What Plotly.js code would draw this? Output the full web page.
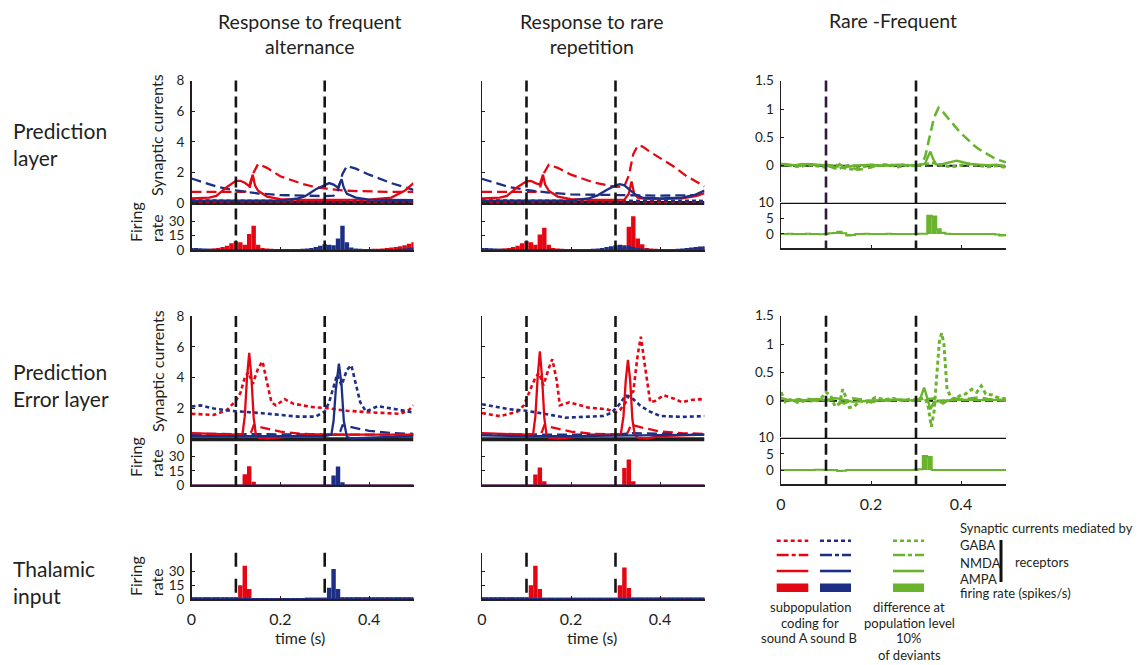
<!DOCTYPE html>
<html>
<head>
<meta charset="utf-8">
<script src="https://cdn.plot.ly/plotly-3.0.1.min.js"></script>
<style>
  html, body { margin: 0; padding: 0; background: #fff; }
  #chart { width: 1138px; height: 665px; }
</style>
</head>
<body>
<div id="chart"></div>
<script>
// Time bases (s)
const binTimes = [0,0.01,0.02,0.03,0.04,0.05,0.06,0.07,0.08,0.09,0.1,0.11,0.12,0.13,0.14,0.15,0.16,0.17,0.18,0.19,0.2,0.21,0.22,0.23,0.24,0.25,0.26,0.27,0.28,0.29,0.3,0.31,0.32,0.33,0.34,0.35,0.36,0.37,0.38,0.39,0.4,0.41,0.42,0.43,0.44,0.45,0.46,0.47,0.48,0.49,0.5];
const coarseTimes = [0,0.02,0.04,0.06,0.08,0.1,0.12,0.14,0.16,0.18,0.2,0.22,0.24,0.26,0.28,0.3,0.32,0.34,0.36,0.38,0.4,0.42,0.44,0.46,0.48,0.5];
const toneOnsets = [0.1, 0.3];

// Tick values
const synTicks = [0, 2, 4, 6, 8];
const rateTicks = [0, 15, 30];
const diffSynTicks = [0, 0.5, 1, 1.5];
const diffRateTicks = [0, 5, 10];
const timeTicks = [0, 0.2, 0.4];
const timeTickText = ['0', '0.2', '0.4'];

// Prediction layer - frequent alternance
const predFreqTimeRedNmda = [0,0.05,0.1,0.12,0.13,0.14,0.15,0.17,0.2,0.25,0.28,0.3,0.35,0.4,0.45,0.5];
const predFreqRedNmda = [0.72,0.72,0.68,0.72,0.9,2.0,2.55,2.3,1.75,1.25,1.03,0.95,0.8,0.74,0.72,0.72];
const predFreqTimeBlueNmda = [0,0.03,0.06,0.1,0.15,0.2,0.25,0.3,0.32,0.33,0.34,0.35,0.37,0.4,0.45,0.5];
const predFreqBlueNmda = [1.6,1.3,1.05,0.82,0.62,0.52,0.47,0.45,0.48,0.85,1.9,2.42,2.25,1.85,1.3,0.86];
const predFreqTimeRedAmpa = [0,0.04,0.056,0.08,0.1,0.11,0.12,0.13,0.138,0.143,0.15,0.17,0.2,0.25,0.3,0.35,0.4,0.45,0.46,0.48,0.5];
const predFreqRedAmpa = [0.3,0.35,0.46,1.05,1.45,1.45,1.32,1.1,1.85,1.15,0.8,0.42,0.25,0.2,0.2,0.2,0.22,0.35,0.5,0.8,1.3];
const predFreqTimeBlueAmpa = [0,0.1,0.2,0.24,0.256,0.28,0.3,0.31,0.32,0.33,0.338,0.343,0.35,0.37,0.4,0.45,0.5];
const predFreqBlueAmpa = [0.15,0.15,0.15,0.3,0.45,0.9,1.2,1.3,1.2,1.0,1.55,1.0,0.6,0.35,0.22,0.18,0.18];
const predTimeGaba = [0,0.1,0.2,0.3,0.4,0.5];
const predRedGaba = [0.08,0.1,0.08,0.1,0.08,0.1];
const predBlueGaba = [0.14,0.12,0.15,0.13,0.14,0.12];
const predFreqRedRate = [1,1,1,1,1.2,1.5,2,3,4.5,7,9,8,5.5,16.5,25,5.5,2,1.5,1.2,1,1,1,1,0.8,0.8,0.8,0.8,0.8,0.8,0.8,0.8,0.8,0.8,0.8,0.8,0.8,0.8,0.8,0.9,1,1,1.2,1.4,1.6,2,2.5,3,4,5,6.5,8];
const predFreqBlueRate = [2,2,1.8,1.6,1.4,1.2,1,1,1,1,1,1,1,1,1,1,1,1,1,1,1,1,1,1,1,1.2,1.5,2,3,4.5,6,5.5,5,12,25,8,2.5,1.5,1.2,1,1,1,1,1,1,1,1,1.2,1.5,2,2.5];

// Prediction layer - rare repetition
const predRareTimeRedNmda = [0,0.05,0.1,0.12,0.13,0.14,0.15,0.17,0.2,0.25,0.3,0.32,0.33,0.34,0.35,0.36,0.38,0.4,0.43,0.46,0.48,0.5];
const predRareRedNmda = [0.72,0.72,0.68,0.72,0.95,2.0,2.5,2.3,1.85,1.35,1.05,1.1,1.8,3.2,3.75,3.7,3.3,2.95,2.4,1.75,1.4,1.08];
const predRareTimeBlueNmda = [0,0.03,0.06,0.1,0.15,0.2,0.3,0.4,0.5];
const predRareBlueNmda = [1.58,1.3,1.05,0.85,0.68,0.56,0.5,0.48,0.52];
const predRareTimeRedAmpa = [0,0.04,0.056,0.08,0.1,0.11,0.12,0.13,0.137,0.142,0.15,0.17,0.2,0.25,0.3,0.32,0.33,0.336,0.342,0.35,0.37,0.4,0.45,0.48,0.5];
const predRareRedAmpa = [0.3,0.35,0.46,1.05,1.42,1.45,1.3,1.2,1.85,1.2,0.8,0.42,0.25,0.2,0.2,0.22,0.6,1.4,0.6,0.35,0.25,0.25,0.3,0.45,0.65];
const predRareTimeBlueAmpa = [0,0.1,0.2,0.24,0.26,0.28,0.3,0.31,0.32,0.33,0.345,0.36,0.4,0.45,0.48,0.5];
const predRareBlueAmpa = [0.15,0.15,0.17,0.3,0.5,0.85,1.15,1.23,1.15,0.9,0.55,0.35,0.3,0.35,0.55,0.82];
const predRareRedRate = [1,1,1,1,1.2,1.5,2,3,4.5,7,9,8,5.5,16,23,5.5,2,1.5,1.2,1,1,1,1,1,1,1,1,1,1,1,1.2,1.5,2,24,35,12,6,2,1.5,1.2,1,1,1,1,1,1,1.2,1.5,2,2.5,3];
const predRareBlueRate = [2,2,1.8,1.6,1.4,1.2,1,1,1,1,1,1,1,1,1,1,1,1,1,1,1,1,1,1,1,1.2,1.5,2,3,4,5,5.5,5,4.5,3,2,1.5,1.2,1,1,1,1,1,1,1.2,1.5,2,2.5,3,3.5,4];

// Prediction error layer - frequent alternance
const errFreqTimeRedGaba = [0,0.03,0.05,0.08,0.1,0.11,0.12,0.128,0.138,0.15,0.16,0.17,0.18,0.19,0.21,0.23,0.27,0.31,0.35,0.4,0.45,0.47,0.49,0.5];
const errFreqRedGaba = [1.65,1.6,1.58,1.9,2.5,3.0,4.0,4.35,3.6,4.6,5.05,3.7,2.4,2.2,2.6,2.3,2.1,2.0,1.85,1.75,1.65,1.65,1.9,2.2];
const errFreqTimeBlueGaba = [0,0.02,0.05,0.09,0.16,0.24,0.28,0.3,0.31,0.32,0.328,0.338,0.35,0.36,0.37,0.38,0.393,0.42,0.46,0.5];
const errFreqBlueGaba = [2.12,2.2,2.0,1.84,1.69,1.47,1.47,1.8,2.4,3.4,4.2,3.5,4.5,4.8,3.5,2.4,1.8,2.15,1.95,1.73];
const errFreqTimeRedAmpa = [0,0.05,0.1,0.115,0.12,0.125,0.13,0.135,0.14,0.145,0.15,0.17,0.2,0.25,0.3,0.35,0.4,0.5];
const errFreqRedAmpa = [0.4,0.35,0.3,0.35,1.5,4.0,5.6,4.0,1.4,0.3,0.1,0.05,0.12,0.25,0.3,0.3,0.3,0.3];
const errFreqTimeBlueAmpa = [0,0.1,0.2,0.3,0.315,0.32,0.325,0.332,0.338,0.343,0.35,0.36,0.4,0.45,0.5];
const errFreqBlueAmpa = [0.2,0.2,0.2,0.2,0.3,1.2,3.2,4.9,3.5,1.2,0.15,0.05,0.1,0.15,0.2];
const errFreqTimeRedNmda = [0,0.13,0.135,0.14,0.16,0.2,0.25,0.3,0.4,0.5];
const errFreqRedNmda = [0.3,0.3,0.5,0.9,0.75,0.5,0.35,0.3,0.3,0.3];
const errFreqTimeBlueNmda = [0,0.33,0.335,0.34,0.36,0.4,0.45,0.5];
const errFreqBlueNmda = [0.35,0.3,0.5,0.9,0.78,0.55,0.4,0.35];
const errFreqRedRate = [0.5,0.5,0.5,0.5,0.5,0.5,0.5,0.5,0.5,0.5,0.5,0.5,11.5,20,3.5,0.5,0.5,0.5,0.5,0.5,0.5,0.5,0.5,0.5,0.5,0.5,0.5,0.5,0.5,0.5,0.5,0.5,0.5,0.5,0.5,0.5,0.5,0.5,0.5,0.5,0.5,0.5,0.5,0.5,0.5,0.5,0.5,0.5,0.5,0.5,0.5];
const errFreqBlueRate = [0.4,0.4,0.4,0.4,0.4,0.4,0.4,0.4,0.4,0.4,0.4,0.4,0.4,0.4,0.4,0.4,0.4,0.4,0.4,0.4,0.4,0.4,0.4,0.4,0.4,0.4,0.4,0.4,0.4,0.4,0.4,0.4,10,19.5,3,0.4,0.4,0.4,0.4,0.4,0.4,0.4,0.4,0.4,0.4,0.4,0.4,0.4,0.4,0.4,0.4];

// Prediction error layer - rare repetition
const errRareTimeRedGaba = [0,0.04,0.08,0.094,0.111,0.12,0.128,0.138,0.15,0.158,0.168,0.175,0.196,0.21,0.24,0.28,0.3,0.31,0.323,0.33,0.34,0.35,0.357,0.365,0.378,0.39,0.408,0.43,0.45,0.47,0.49,0.5];
const errRareRedGaba = [1.7,1.5,1.8,2.2,3.4,4.0,4.3,3.5,4.6,5.2,3.8,2.2,2.4,2.3,2.05,1.95,1.75,1.9,2.4,2.9,3.1,5.5,6.65,5.0,2.4,2.5,2.85,2.65,2.4,2.55,2.6,2.5];
const errRareTimeBlueGaba = [0,0.06,0.1,0.128,0.16,0.187,0.23,0.272,0.29,0.306,0.323,0.34,0.355,0.374,0.4,0.45,0.5];
const errRareBlueGaba = [2.27,1.95,1.85,1.73,1.55,1.4,1.45,1.51,1.7,2.16,2.85,2.6,2.2,1.84,1.51,1.45,1.5];
const errRareTimeRedAmpa = [0,0.05,0.1,0.115,0.12,0.125,0.13,0.135,0.14,0.145,0.15,0.17,0.2,0.25,0.3,0.312,0.318,0.323,0.328,0.333,0.338,0.343,0.35,0.37,0.4,0.5];
const errRareRedAmpa = [0.4,0.35,0.3,0.35,1.5,4.0,5.7,4.0,1.4,0.3,0.1,0.05,0.12,0.25,0.3,0.35,1.5,3.8,5.15,3.8,1.3,0.3,0.1,0.05,0.2,0.3];
const errRareTimeBlueAmpa = [0,0.1,0.2,0.3,0.4,0.5];
const errRareBlueAmpa = [0.25,0.2,0.2,0.22,0.25,0.3];
const errRareTimeRedNmda = [0,0.13,0.135,0.14,0.16,0.2,0.25,0.3,0.325,0.33,0.335,0.36,0.4,0.45,0.5];
const errRareRedNmda = [0.3,0.3,0.5,0.9,0.75,0.5,0.35,0.3,0.3,0.6,0.95,0.75,0.5,0.4,0.35];
const errRareTimeBlueNmda = [0,0.1,0.2,0.3,0.34,0.4,0.5];
const errRareBlueNmda = [0.35,0.3,0.3,0.3,0.4,0.35,0.3];
const errRareRedRate = [0.5,0.5,0.5,0.5,0.5,0.5,0.5,0.5,0.5,0.5,0.5,0.5,11,18.5,4,0.5,0.5,0.5,0.5,0.5,0.5,0.5,0.5,0.5,0.5,0.5,0.5,0.5,0.5,0.5,0.5,0.5,18,27,4,0.5,0.5,0.5,0.5,0.5,0.5,0.5,0.5,0.5,0.5,0.5,0.5,0.5,0.5,0.5,0.5];
const errRareBlueRate = [0.4,0.4,0.4,0.4,0.4,0.4,0.4,0.4,0.4,0.4,0.4,0.4,0.4,0.4,0.4,0.4,0.4,0.4,0.4,0.4,0.4,0.4,0.4,0.4,0.4,0.4,0.4,0.4,0.4,0.4,0.4,0.4,0.4,0.4,0.4,0.4,0.4,0.4,0.4,0.4,0.4,0.4,0.4,0.4,0.4,0.4,0.4,0.4,0.4,0.4,0.4];

// Thalamic input
const thalFreqRedRate = [2.5,2.5,2.5,2.5,2.5,2.5,2.5,2.5,2.5,2.5,2.5,15,36,11,1,1,1,1,1,1,1,1,1,1,1,1,2,2,2,2,2,1,1,1,2.5,2.5,2.5,2.5,2.5,2.5,2.5,2.5,2.5,2.5,2.5,2.5,2.5,2.5,2.5,2.5,2.5];
const thalFreqBlueRate = [1.5,1.5,1.5,1.5,1.5,1.5,1.5,1.5,1.5,1.5,1.5,1.5,1.5,1.5,1.5,1.5,1.5,1.5,1.5,1.5,1.5,1.5,1.5,1.5,1.5,1.5,1.5,1.5,1.5,1.5,1.5,12.5,32.5,11,1.5,1.5,1.5,1.5,1.5,1.5,1.5,1.5,1.5,1.5,1.5,1.5,1.5,1.5,1.5,1.5,1.5];
const thalRareRedRate = [2.5,2.5,2.5,2.5,2.5,2.5,2.5,2.5,2.5,2.5,2.5,15,36,11,1.8,1.8,1.8,1.8,1.8,1.8,1.8,1.8,1.8,1.8,1.8,1.8,1.8,1.8,1.8,1.8,1.8,15,34,12,2.3,2.3,2.3,2.3,2.3,2.3,2.3,2.3,2.3,2.3,2.3,2.3,2.3,2.3,2.3,2.3,2.3];
const thalRareBlueRate = [1.5,1.5,1.5,1.5,1.5,1.5,1.5,1.5,1.5,1.5,1.5,1.5,1.5,1.5,1.5,1.5,1.5,1.5,1.5,1.5,1.5,1.5,1.5,1.5,1.5,1.5,1.5,1.5,1.5,1.5,1.5,1.5,1.5,1.5,1.5,1.5,1.5,1.5,1.5,1.5,1.5,1.5,1.5,1.5,1.5,1.5,1.5,1.5,1.5,1.5,1.5];

// Rare - Frequent differences
const diffPredNmda = [0.02,0.03,0.01,0.0,0.02,0.03,0.01,0.02,0.0,0.01,0.02,0.0,-0.03,-0.05,-0.02,0.01,-0.04,-0.07,-0.06,-0.05,-0.03,0.0,0.01,0.02,0.0,0.01,-0.01,0.02,0.0,0.01,0.0,0.02,0.15,0.5,0.85,1.02,0.95,0.85,0.75,0.66,0.57,0.5,0.42,0.35,0.29,0.24,0.19,0.15,0.11,0.08,0.06];
const diffPredTimeAmpa = [0,0.02,0.04,0.06,0.08,0.1,0.11,0.12,0.13,0.14,0.16,0.18,0.2,0.22,0.24,0.26,0.28,0.3,0.31,0.32,0.326,0.332,0.338,0.345,0.36,0.38,0.39,0.4,0.42,0.44,0.46,0.48,0.5];
const diffPredAmpa = [0.01,0.02,0.0,0.03,0.02,0.01,-0.02,-0.05,0.03,-0.03,0.0,0.01,0.02,0.0,0.01,0.02,0.01,0.0,0.02,0.03,0.15,0.25,0.12,0.02,0.03,0.07,0.09,0.07,0.03,0.02,0.01,0.02,-0.02];
const diffPredGaba = [0.03,0.01,-0.02,0.02,0.0,-0.03,0.02,-0.04,-0.06,-0.03,0.01,0.0,0.02,-0.02,0.01,0.0,0.03,0.05,0.0,-0.02,0.01,0.03,0.0,-0.02,0.0,-0.03];
const diffPredRate = [0,0,0.1,0,0,0,0.1,0,0,-0.1,0,0.2,0.3,0.7,0.2,-0.5,-0.3,0,0,0.1,0,0,0,0,0.1,0,0,0,0,0,0,0.1,0.1,5.8,5.6,1.5,0.4,0.1,0,0,0,0,0,0,0,0,0,0,-0.2,-0.5,-0.4];
const diffErrTimeGaba = [0,0.01,0.02,0.04,0.06,0.08,0.09,0.1,0.11,0.12,0.13,0.137,0.145,0.152,0.163,0.175,0.19,0.21,0.23,0.25,0.27,0.29,0.3,0.31,0.32,0.327,0.334,0.34,0.346,0.352,0.357,0.362,0.369,0.38,0.39,0.4,0.41,0.424,0.435,0.445,0.455,0.47,0.48,0.49,0.5];
const diffErrGaba = [0.15,-0.02,0.02,-0.04,0.03,0.0,0.05,0.15,0.1,-0.1,-0.05,0.2,0.05,-0.12,-0.1,0.0,-0.03,0.06,0.02,0.04,0.0,0.03,0.0,0.02,0.05,-0.1,-0.46,-0.2,0.5,1.05,1.19,1.0,0.2,0.03,0.05,0.1,0.12,0.2,0.15,0.26,0.12,0.1,0.06,0.05,0.03];
const diffErrNmda = [0.05,0.0,0.03,-0.02,0.02,0.0,0.03,-0.05,0.04,0.02,-0.03,0.01,0.0,0.02,0.01,0.0,0.02,0.04,-0.05,0.05,0.02,0.04,0.06,0.03,0.02,0.0];
const diffErrTimeAmpa = [0,0.04,0.08,0.1,0.12,0.16,0.2,0.24,0.28,0.3,0.31,0.318,0.325,0.332,0.34,0.36,0.4,0.45,0.5];
const diffErrAmpa = [0.02,0.0,0.03,0.01,0.05,-0.02,0.0,0.02,0.01,0.0,0.05,0.23,0.05,-0.15,-0.02,0.0,0.02,0.01,0.02];
const diffErrRate = [0,0,0,0,0,0,0,0,0.1,0.1,0,0,0,-0.3,-0.2,0,0,0,0,0,0,0,0,0,0,0,0,0,0,0,0.1,0.2,4.3,4.0,0,0,0,0,0,0,0,0,0,0,0,0,0,0,0,0,0];

const W = 1138, H = 665;
const ink = '#231f20';
const red = '#e30613', blue = '#1d2f84', green = '#6ab42d';
const GABA = '4px,3px', NMDA = '10px,5px', AMPA = 'solid';
const colPx = [[191.5, 413.5], [482, 704.5], [781, 1006]];

const layout = {
    width: W,
    height: H,
    margin: { l: 0, r: 0, t: 0, b: 0 },
    paper_bgcolor: 'white',
    plot_bgcolor: 'rgba(0,0,0,0)',
    showlegend: false,
    barmode: 'overlay',
    font: { family: 'Lato, sans-serif', size: 15, color: ink },
    shapes: [],
    annotations: []
};

let axisCount = 0;
function addPanel(col, top, bottom, yRange, yTicks, xMode) {
    axisCount++;
    const n = axisCount === 1 ? '' : String(axisCount);
    const showX = xMode !== 'none';
    layout['xaxis' + n] = {
        domain: [colPx[col][0] / W, colPx[col][1] / W],
        range: [0, 0.5], anchor: 'y' + n,
        showline: showX, linecolor: ink, linewidth: 1.5,
        ticks: showX ? 'inside' : '', ticklen: 3, tickcolor: ink,
        tickvals: showX ? timeTicks : [], ticktext: timeTickText,
        showticklabels: xMode === 'labels',
        tickfont: { size: 16 }, ticklabelstandoff: 5,
        showgrid: false, zeroline: false, fixedrange: true
    };
    layout['yaxis' + n] = {
        domain: [1 - bottom / H, 1 - top / H],
        range: yRange, anchor: 'x' + n,
        showline: true, linecolor: ink, linewidth: 1.5,
        ticks: 'inside', ticklen: 3, tickcolor: ink,
        tickvals: yTicks, showticklabels: col !== 1,
        tickfont: { size: 13.5 }, ticklabelstandoff: 3,
        showgrid: false, zeroline: false, fixedrange: true
    };
    return { x: 'x' + n, y: 'y' + n };
}

// Panels (pixel geometry)
const predFreqSyn = addPanel(0, 80.7, 206.8, [-0.25, 8], synTicks, 'none');
const predFreqFr = addPanel(0, 207, 250, [0, 44.5], rateTicks, 'line');
const predRareSyn = addPanel(1, 80.7, 206.8, [-0.25, 8], synTicks, 'none');
const predRareFr = addPanel(1, 207, 250, [0, 44.5], rateTicks, 'line');
const predDiffSyn = addPanel(2, 80.7, 202, [-0.64, 1.5], diffSynTicks, 'none');
const predDiffFr = addPanel(2, 202.7, 248, [-4.5, 10], diffRateTicks, 'line');
const errFreqSyn = addPanel(0, 316, 443.1, [-0.25, 8], synTicks, 'none');
const errFreqFr = addPanel(0, 443.3, 485, [0, 44.2], rateTicks, 'line');
const errRareSyn = addPanel(1, 316, 443.1, [-0.25, 8], synTicks, 'none');
const errRareFr = addPanel(1, 443.3, 485, [0, 44.2], rateTicks, 'line');
const errDiffSyn = addPanel(2, 315.7, 437, [-0.64, 1.5], diffSynTicks, 'none');
const errDiffFr = addPanel(2, 437.7, 484, [-4.33, 10], diffRateTicks, 'labels');
const thalFreq = addPanel(0, 552.7, 599.3, [0, 50], rateTicks, 'labels');
const thalRare = addPanel(1, 552.7, 599.3, [0, 50], rateTicks, 'labels');

const traces = [];
function addLine(ax, t, v, color, dash, width, shape) {
    traces.push({
        x: t, y: v, xaxis: ax.x, yaxis: ax.y,
        type: 'scatter', mode: 'lines',
        line: { color: color, dash: dash, width: width || 2.3, shape: shape || 'linear' },
        hoverinfo: 'skip'
    });
}
function addRate(ax, v, color) {
    traces.push({
        x: binTimes, y: v, xaxis: ax.x, yaxis: ax.y,
        type: 'bar', width: 0.01,
        marker: { color: color, line: { width: 0 } },
        hoverinfo: 'skip'
    });
}

// Zero lines under the synaptic currents
[predFreqSyn, predRareSyn, errFreqSyn, errRareSyn].forEach(ax => {
    layout.shapes.push({ type: 'line', xref: ax.x, yref: ax.y, x0: 0, x1: 0.5, y0: 0, y1: 0,
        layer: 'below', line: { color: '#1e1e1e', width: 4 } });
});
[predDiffSyn, errDiffSyn].forEach(ax => {
    layout.shapes.push({ type: 'line', xref: ax.x, yref: ax.y, x0: 0, x1: 0.5, y0: 0, y1: 0,
        layer: 'below', line: { color: '#111', width: 2, dash: '8px,4px' } });
});
[predDiffFr, errDiffFr].forEach(ax => {
    layout.shapes.push({ type: 'line', xref: ax.x, yref: ax.y, x0: 0, x1: 0.5, y0: 10, y1: 10,
        line: { color: '#111', width: 2.5 } });
});

// Prediction layer
addLine(predFreqSyn, predTimeGaba, predRedGaba, red, GABA, 3);
addLine(predFreqSyn, predTimeGaba, predBlueGaba, blue, GABA, 3);
addLine(predFreqSyn, predFreqTimeRedNmda, predFreqRedNmda, red, NMDA);
addLine(predFreqSyn, predFreqTimeBlueNmda, predFreqBlueNmda, blue, NMDA);
addLine(predFreqSyn, predFreqTimeRedAmpa, predFreqRedAmpa, red, AMPA);
addLine(predFreqSyn, predFreqTimeBlueAmpa, predFreqBlueAmpa, blue, AMPA);
addRate(predFreqFr, predFreqRedRate, red);
addRate(predFreqFr, predFreqBlueRate, blue);

addLine(predRareSyn, predTimeGaba, predRedGaba, red, GABA, 3);
addLine(predRareSyn, predTimeGaba, predBlueGaba, blue, GABA, 3);
addLine(predRareSyn, predRareTimeRedNmda, predRareRedNmda, red, NMDA);
addLine(predRareSyn, predRareTimeBlueNmda, predRareBlueNmda, blue, NMDA);
addLine(predRareSyn, predRareTimeRedAmpa, predRareRedAmpa, red, AMPA);
addLine(predRareSyn, predRareTimeBlueAmpa, predRareBlueAmpa, blue, AMPA);
addRate(predRareFr, predRareRedRate, red);
addRate(predRareFr, predRareBlueRate, blue);

addLine(predDiffSyn, coarseTimes, diffPredGaba, green, GABA, 3);
addLine(predDiffSyn, binTimes, diffPredNmda, green, NMDA, 2.6);
addLine(predDiffSyn, diffPredTimeAmpa, diffPredAmpa, green, AMPA, 2.4);
addRate(predDiffFr, diffPredRate, green);
addLine(predDiffFr, binTimes, diffPredRate, green, AMPA, 2, 'hvh');

// Prediction error layer
addLine(errFreqSyn, errFreqTimeRedNmda, errFreqRedNmda, red, NMDA);
addLine(errFreqSyn, errFreqTimeBlueNmda, errFreqBlueNmda, blue, NMDA);
addLine(errFreqSyn, errFreqTimeRedGaba, errFreqRedGaba, red, GABA, 2.6);
addLine(errFreqSyn, errFreqTimeBlueGaba, errFreqBlueGaba, blue, GABA, 2.6);
addLine(errFreqSyn, errFreqTimeRedAmpa, errFreqRedAmpa, red, AMPA);
addLine(errFreqSyn, errFreqTimeBlueAmpa, errFreqBlueAmpa, blue, AMPA);
addRate(errFreqFr, errFreqRedRate, red);
addRate(errFreqFr, errFreqBlueRate, blue);

addLine(errRareSyn, errRareTimeRedNmda, errRareRedNmda, red, NMDA);
addLine(errRareSyn, errRareTimeBlueNmda, errRareBlueNmda, blue, NMDA);
addLine(errRareSyn, errRareTimeRedGaba, errRareRedGaba, red, GABA, 2.6);
addLine(errRareSyn, errRareTimeBlueGaba, errRareBlueGaba, blue, GABA, 2.6);
addLine(errRareSyn, errRareTimeRedAmpa, errRareRedAmpa, red, AMPA);
addLine(errRareSyn, errRareTimeBlueAmpa, errRareBlueAmpa, blue, AMPA);
addRate(errRareFr, errRareRedRate, red);
addRate(errRareFr, errRareBlueRate, blue);

addLine(errDiffSyn, coarseTimes, diffErrNmda, green, NMDA, 2.6);
addLine(errDiffSyn, diffErrTimeGaba, diffErrGaba, green, GABA, 3);
addLine(errDiffSyn, diffErrTimeAmpa, diffErrAmpa, green, AMPA, 2.4);
addRate(errDiffFr, diffErrRate, green);
addLine(errDiffFr, binTimes, diffErrRate, green, AMPA, 2, 'hvh');

// Thalamic input
addRate(thalFreq, thalFreqRedRate, red);
addRate(thalFreq, thalFreqBlueRate, blue);
addRate(thalRare, thalRareRedRate, red);
addRate(thalRare, thalRareBlueRate, blue);

// Tone onsets
const onsetSpans = [
    [predFreqSyn, 80.5, 250, '11px,5px', '#151515'], [predRareSyn, 80.5, 250, '11px,5px', '#151515'],
    [predDiffSyn, 80.5, 248, '11px,5px', '#2e1a38'],
    [errFreqSyn, 316, 485, '11px,5px', '#151515'], [errRareSyn, 316, 485, '11px,5px', '#151515'],
    [errDiffSyn, 315.7, 484, '11px,5px', '#151515'],
    [thalFreq, 552.7, 599, '14px,12px', '#151515'], [thalRare, 552.7, 599, '14px,12px', '#151515']
];
onsetSpans.forEach(s => {
    toneOnsets.forEach((t, i) => {
        layout.shapes.push({
            type: 'line', xref: s[0].x, yref: 'paper', x0: t, x1: t,
            y0: 1 - s[1] / H, y1: 1 - s[2] / H,
            line: { color: i === 0 ? s[4] : '#151515', width: 2.6, dash: s[3] }
        });
    });
});

// Text
function note(text, x, y, size, extra) {
    layout.annotations.push(Object.assign({
        text: text, x: x / W, y: 1 - y / H, xref: 'paper', yref: 'paper',
        showarrow: false, xanchor: 'center', yanchor: 'middle',
        font: { size: size, color: ink }
    }, extra || {}));
}
note('Response to frequent<br>alternance', 310, 34, 19.5);
note('Response to rare<br>repetition', 592, 34, 19.5);
note('Rare -Frequent', 893, 21, 19.5);
note('Prediction<br>layer', 11, 144, 21, { xanchor: 'left', align: 'left' });
note('Prediction<br>Error layer', 11, 385, 21, { xanchor: 'left', align: 'left' });
note('Thalamic<br>input', 11, 582, 21, { xanchor: 'left', align: 'left' });
note('Synaptic currents', 157, 135, 16, { textangle: -90 });
note('Synaptic currents', 157, 371, 16, { textangle: -90 });
const rateLabel = { textangle: -90, align: 'left' };
note('Firing<br>rate', 146, 222, 16, rateLabel);
note('Firing<br>rate', 146, 457, 16, rateLabel);
note('Firing<br>rate', 146, 576, 16, rateLabel);
note('time (s)', 300, 637, 16);
note('time (s)', 592, 637, 16);

// Legend
const legendRows = [[540.7, GABA], [555, '12px,3px,4px,3px'], [571, AMPA]];
const legendCols = [[776.7, 808.3, red], [820, 851, blue], [893, 924, green]];
legendCols.forEach(c => {
    legendRows.forEach(r => {
        layout.shapes.push({ type: 'line', xref: 'paper', yref: 'paper',
            x0: c[0] / W, x1: c[1] / W, y0: 1 - r[0] / H, y1: 1 - r[0] / H,
            line: { color: c[2], width: 2.6, dash: r[1] } });
    });
    layout.shapes.push({ type: 'rect', xref: 'paper', yref: 'paper',
        x0: c[0] / W, x1: c[1] / W, y0: 1 - 592 / H, y1: 1 - 583.5 / H,
        fillcolor: c[2], line: { width: 0 } });
});
layout.shapes.push({ type: 'line', xref: 'paper', yref: 'paper',
    x0: 1001 / W, x1: 1001 / W, y0: 1 - 582 / H, y1: 1 - 540 / H,
    line: { color: '#111', width: 3 } });
const leftText = { xanchor: 'left' };
note('Synaptic currents mediated by', 958, 528, 13, leftText);
note('GABA', 958, 545, 13, leftText);
note('NMDA', 958, 562.5, 13, leftText);
note('AMPA', 958, 579, 13, leftText);
note('receptors', 1013, 562, 13, leftText);
note('firing rate (spikes/s)', 958, 593, 13, leftText);
note('subpopulation', 810, 607, 13);
note('coding for', 810, 623, 13);
note('sound A sound B', 809, 638, 13);
note('difference at', 909, 607, 13);
note('population level', 909, 623, 13);
note('10%', 909, 638, 13);
note('of deviants', 909, 655, 13);

Plotly.newPlot('chart', traces, layout, { displayModeBar: false, staticPlot: true });
</script>
</body>
</html>
